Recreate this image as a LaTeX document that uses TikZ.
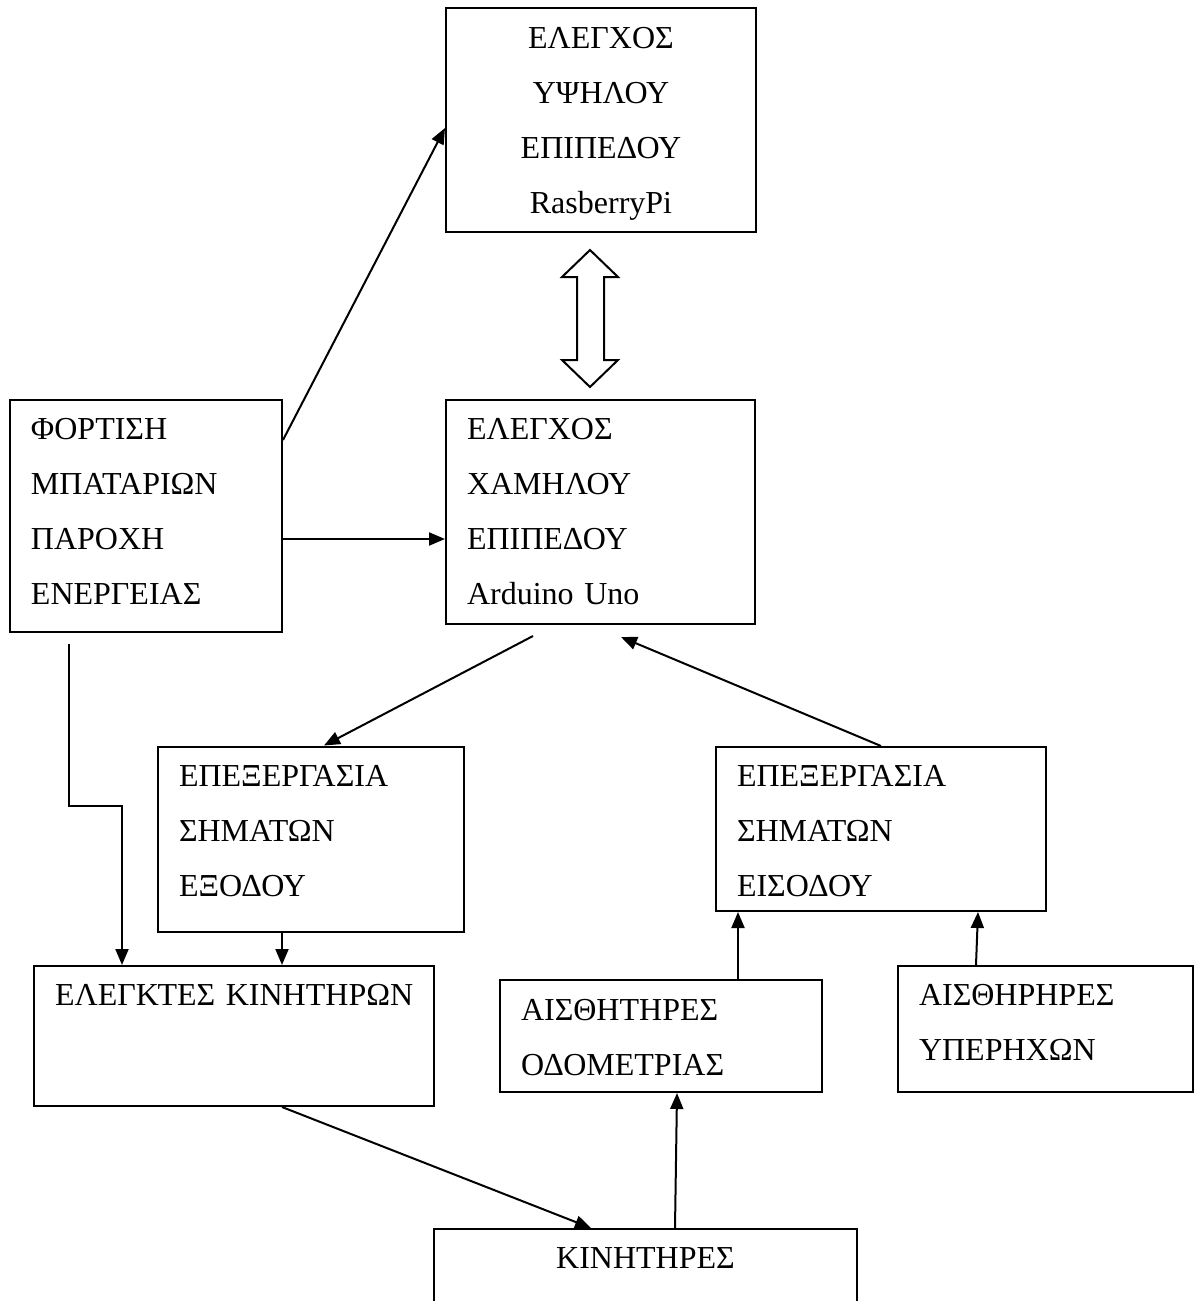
\documentclass[tikz,border=0pt]{standalone}
\usepackage{fontspec}
\setmainfont{Liberation Serif}
\usetikzlibrary{arrows.meta}

\begin{document}
\begin{tikzpicture}[x=0.5pt, y=-0.5pt,
  box/.style={draw, line width=1pt, inner xsep=10.5pt, inner ysep=0pt, align=left,
    text height=10.5pt, font=\fontsize{16}{27.5}\selectfont},
  arr/.style={line width=1pt, -{Triangle[length=8pt,width=6.5pt]}}]
\useasboundingbox (0,0) rectangle (1195,1301);
\node[box, align=center, minimum width=155pt, minimum height=112pt, text width=134pt, text depth=82pt] (high) at (601,120) {ΕΛΕΓΧΟΣ\\ΥΨΗΛΟΥ\\ΕΠΙΠΕΔΟΥ\\RasberryPi};
\node[box, minimum width=154.5pt, minimum height=112pt, text width=133.5pt, text depth=83pt] (low) at (600.5,512) {ΕΛΕΓΧΟΣ\\ΧΑΜΗΛΟΥ\\ΕΠΙΠΕΔΟΥ\\Arduino Uno};
\node[box, minimum width=136pt, minimum height=116pt, text width=115pt, text depth=87pt] (power) at (146,516) {ΦΟΡΤΙΣΗ\\ΜΠΑΤΑΡΙΩΝ\\ΠΑΡΟΧΗ\\ΕΝΕΡΓΕΙΑΣ};
\node[box, minimum width=153pt, minimum height=92.5pt, text width=132pt, text depth=63pt] (outproc) at (311,839) {ΕΠΕΞΕΡΓΑΣΙΑ\\ΣΗΜΑΤΩΝ\\ΕΞΟΔΟΥ};
\node[box, minimum width=165pt, minimum height=82pt, text width=144pt, text depth=53pt] (inproc) at (881,829) {ΕΠΕΞΕΡΓΑΣΙΑ\\ΣΗΜΑΤΩΝ\\ΕΙΣΟΔΟΥ};
\node[box, minimum width=200pt, minimum height=70pt, text width=179pt, text depth=41pt] (drivers) at (234,1036) {\mbox{ΕΛΕΓΚΤΕΣ ΚΙΝΗΤΗΡΩΝ}};
\node[box, minimum width=161pt, minimum height=56pt, text width=140pt, text depth=26pt] (odometry) at (661,1036) {ΑΙΣΘΗΤΗΡΕΣ\\ΟΔΟΜΕΤΡΙΑΣ};
\node[box, minimum width=147.5pt, minimum height=63pt, text width=126.5pt, text depth=34pt] (sonar) at (1045.5,1029) {ΑΙΣΘΗΡΗΡΕΣ\\ΥΠΕΡΗΧΩΝ};
\node[box, align=center, minimum width=211.5pt, minimum height=60pt, text depth=31pt] (motors) at (645.5,1289) {ΚΙΝΗΤΗΡΕΣ};
\draw[line width=1pt] (590,250) -- (618,277) -- (604,277) -- (604,360) -- (618,360) -- (590,387)
  -- (562,360) -- (577,360) -- (577,277) -- (562,277) -- cycle;
\draw[arr] ([yshift=38pt]power.east) -- ([yshift=-4pt]high.west);
\coordinate (p1) at ([yshift=-11.5pt]power.east);
\draw[arr] (p1) -- (p1 -| low.west);
\draw[arr] ([xshift=-33.75pt,yshift=-5.5pt]low.south) -- ([xshift=6.5pt]outproc.north);
\draw[arr] (inproc.north) -- ([xshift=10.25pt,yshift=-6pt]low.south);
\draw[arr] ([xshift=-38.5pt,yshift=-5.5pt]power.south) -- ++(0,162) -| ([xshift=-56pt]drivers.north);
\coordinate (p2) at ([xshift=-14.5pt]outproc.south);
\draw[arr] (p2) -- (p2 |- drivers.north);
\coordinate (p3) at ([xshift=38.5pt]odometry.north);
\draw[arr] (p3) -- (p3 |- inproc.south);
\draw[arr] ([xshift=-34.75pt]sonar.north) -- ([xshift=48.5pt]inproc.south);
\draw[arr] ([xshift=24pt]drivers.south) -- ([xshift=-27.25pt]motors.north);
\draw[arr] ([xshift=14.75pt]motors.north) -- ([xshift=8pt]odometry.south);
\end{tikzpicture}
\end{document}
